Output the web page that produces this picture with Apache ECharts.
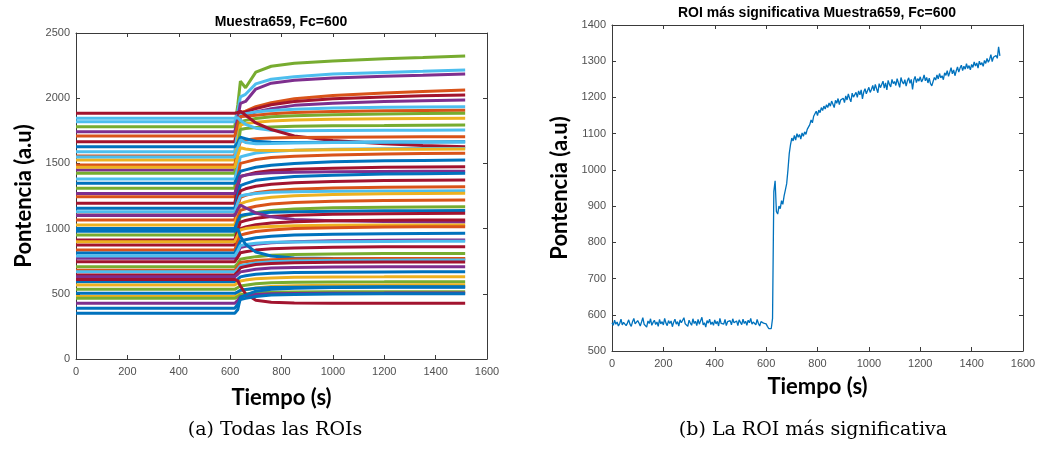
<!DOCTYPE html>
<html>
<head>
<meta charset="utf-8">
<script src="https://cdn.jsdelivr.net/npm/echarts@6/dist/echarts.min.js"></script>
<style>
  html, body { margin: 0; padding: 0; background: #ffffff; }
  #chart { width: 1039px; height: 458px; }
</style>
</head>
<body>
<div id="chart"></div>
<script>
// ---- Panel (a): every ROI, level before stimulus + samples after it ----
const roiPreEnd = 618;                       // last instant of the baseline
const roiPostTimes = [630, 640, 660, 700, 760, 850, 1000, 1200, 1350, 1515];
// each row: [baseline, value at each of roiPostTimes]
const roiLevels = [
  [1782, 1950, 2130, 2080, 2200, 2245, 2268, 2285, 2302, 2312, 2324],
  [1820, 1900, 2010, 2030, 2110, 2145, 2165, 2185, 2198, 2206, 2216],
  [1743, 1850, 1960, 1975, 2070, 2115, 2138, 2155, 2168, 2176, 2186],
  [1557, 1750, 1890, 1900, 1935, 1965, 1995, 2020, 2040, 2052, 2063],
  [1666, 1800, 1885, 1895, 1920, 1950, 1975, 1995, 2010, 2018, 2025],
  [1449, 1700, 1860, 1870, 1895, 1920, 1945, 1962, 1975, 1981, 1986],
  [1590, 1760, 1870, 1880, 1895, 1905, 1915, 1925, 1930, 1933, 1935],
  [1710, 1800, 1860, 1862, 1870, 1880, 1890, 1898, 1903, 1906, 1908],
  [1309, 1600, 1820, 1830, 1845, 1858, 1866, 1874, 1879, 1882, 1884],
  [1526, 1680, 1795, 1805, 1815, 1825, 1832, 1838, 1842, 1844, 1846],
  [1424, 1620, 1760, 1768, 1775, 1780, 1785, 1789, 1791, 1793, 1794],
  [1846, 1850, 1830, 1800, 1770, 1755, 1750, 1752, 1754, 1755, 1756],
  [1884, 1890, 1900, 1870, 1810, 1760, 1710, 1675, 1650, 1638, 1628],
  [1488, 1600, 1670, 1680, 1690, 1695, 1698, 1701, 1703, 1704, 1705],
  [1628, 1660, 1700, 1690, 1670, 1662, 1660, 1662, 1664, 1665, 1666],
  [1550, 1620, 1680, 1660, 1650, 1652, 1656, 1660, 1663, 1664, 1665],
  [1380, 1470, 1550, 1560, 1580, 1592, 1600, 1608, 1612, 1614, 1615],
  [1470, 1560, 1620, 1610, 1600, 1598, 1600, 1605, 1608, 1609, 1610],
  [1245, 1400, 1500, 1510, 1530, 1545, 1555, 1565, 1572, 1575, 1577],
  [1347, 1400, 1440, 1450, 1470, 1485, 1500, 1512, 1520, 1523, 1526],
  [1194, 1320, 1400, 1410, 1430, 1445, 1455, 1463, 1470, 1473, 1475],
  [1270, 1340, 1400, 1410, 1420, 1428, 1432, 1436, 1438, 1439, 1440],
  [1156, 1260, 1330, 1345, 1370, 1385, 1400, 1410, 1418, 1421, 1424],
  [1104, 1220, 1290, 1305, 1325, 1340, 1352, 1362, 1368, 1371, 1373],
  [1066, 1170, 1240, 1255, 1275, 1290, 1302, 1311, 1317, 1319, 1321],
  [1130, 1200, 1250, 1260, 1270, 1278, 1283, 1286, 1288, 1289, 1290],
  [1028, 1120, 1190, 1205, 1225, 1240, 1252, 1261, 1267, 1269, 1271],
  [989, 1080, 1140, 1152, 1172, 1188, 1200, 1209, 1215, 1217, 1219],
  [951, 1030, 1090, 1102, 1122, 1138, 1150, 1159, 1164, 1166, 1168],
  [1000, 1060, 1100, 1108, 1118, 1126, 1130, 1134, 1136, 1137, 1138],
  [913, 990, 1050, 1062, 1080, 1093, 1103, 1110, 1114, 1116, 1117],
  [1100, 1150, 1180, 1160, 1120, 1090, 1070, 1060, 1055, 1052, 1050],
  [874, 940, 1000, 1012, 1030, 1043, 1053, 1060, 1064, 1065, 1066],
  [900, 950, 990, 1000, 1010, 1017, 1022, 1025, 1027, 1028, 1028],
  [836, 900, 950, 960, 978, 990, 1000, 1007, 1012, 1014, 1015],
  [813, 860, 905, 914, 930, 942, 950, 957, 961, 963, 964],
  [772, 815, 855, 864, 880, 892, 900, 906, 910, 912, 913],
  [790, 830, 870, 878, 888, 895, 898, 900, 902, 903, 903],
  [746, 780, 815, 822, 835, 845, 852, 857, 860, 861, 861],
  [708, 735, 765, 772, 785, 795, 802, 806, 809, 810, 810],
  [980, 1000, 940, 880, 820, 790, 775, 770, 768, 767, 767],
  [680, 710, 740, 746, 756, 762, 766, 768, 770, 770, 771],
  [669, 690, 715, 722, 736, 746, 752, 756, 758, 759, 759],
  [645, 670, 700, 710, 725, 733, 738, 741, 743, 744, 744],
  [631, 650, 668, 675, 688, 697, 702, 705, 707, 708, 708],
  [593, 612, 630, 638, 650, 658, 663, 666, 668, 669, 669],
  [567, 585, 598, 605, 615, 622, 626, 629, 630, 631, 631],
  [534, 548, 560, 566, 577, 584, 588, 591, 592, 593, 593],
  [480, 500, 520, 530, 545, 556, 562, 566, 568, 569, 570],
  [504, 515, 527, 533, 542, 548, 551, 553, 554, 554, 554],
  [465, 478, 492, 498, 506, 511, 513, 515, 516, 516, 516],
  [610, 600, 560, 500, 450, 435, 430, 428, 428, 427, 427],
  [427, 450, 478, 485, 495, 500, 503, 505, 506, 507, 507],
  [389, 420, 455, 465, 480, 490, 495, 498, 500, 501, 501],
  [350, 380, 470, 490, 520, 535, 543, 548, 550, 551, 551]
];
// palette slot used by each ROI row (MATLAB default line order)
const roiColour = [4, 5, 3, 1, 6, 3, 5, 1, 4, 2, 4, 5, 6, 1, 0, 5, 5, 2, 1, 0, 6, 3, 0, 6, 1, 5, 2,
                   1, 4, 0, 6, 3, 6, 2, 1, 0, 3, 5, 6, 4, 0, 1, 5, 6, 3, 0, 2, 4, 2, 0, 4, 6, 3, 0, 0];

// ---- Panel (b): the most significant ROI, one sample every 5 s from t = 0 ----
const sigStart = 0;
const sigStep = 5;
const sigValues = [
  578,571,585,574,580,569,576,588,572,579,583,570,577,586,574,568,581,590,575,572,
  584,577,569,580,592,574,578,566,583,576,589,571,579,585,573,580,568,587,575,581,
  572,590,577,570,584,576,583,567,579,588,574,581,569,586,578,573,592,575,580,568,
  585,577,571,589,576,582,570,587,574,579,593,572,578,566,584,577,588,573,580,571,
  586,575,582,569,590,576,579,574,587,570,581,577,584,572,589,578,575,583,570,586,
  579,573,588,576,582,571,585,578,590,574,580,583,572,587,576,569,581,584,577,579,
  575,568,562,566,
  562,590,940,970,885,878,900,893,915,905,928,945,962,1000,1045,1070,1088,1080,1095,1082,
  1100,1090,1098,1085,1102,1093,1105,1098,1112,1108,1125,1138,1130,1148,1155,1162,1150,1165,1158,1172,
  1164,1176,1168,1180,1172,1185,
  1176,1190,1181,1172,1192,1184,1197,1180,1193,1188,
  1198,1186,1204,1193,1210,1197,1188,1212,1201,1206,
  1214,1200,1218,1207,1221,1196,1215,1224,1210,1219,
  1228,1214,1222,1233,1218,1236,1224,1213,1238,1227,
  1232,1245,1226,1240,1221,1247,1236,1229,1250,1238,
  1244,1233,1252,1240,1228,1255,1243,1237,1249,1231,
  1246,1254,1239,1250,1222,1248,1258,1241,1252,1245,
  1257,1243,1250,1262,1246,1255,1240,1253,1238,1232,
  1244,1255,1248,1262,1251,1266,1254,1260,1249,1268,
  1261,1274,1258,1270,1282,1265,1276,1260,1273,1284,
  1270,1281,1289,1274,1286,1278,1293,1280,1288,1276,
  1291,1283,1298,1287,1295,1281,1300,1290,1296,1286,
  1302,1294,1308,1297,1305,1318,1299,1311,1306,1316,
  1308,1340,1315
];

const palette = ['#0072BD', '#D95319', '#EDB120', '#7E2F8E', '#77AC30', '#4DBEEE', '#A2142F'];
const axisInk = '#3a3a3a';
const labelInk = '#505050';
const nameFont = { fontFamily: 'Lato', fontWeight: 'bold', fontSize: 22, color: '#000' };
const tickFont = { color: labelInk, fontSize: 11, fontFamily: 'Liberation Sans', formatter: v => String(v) };

function boxX(gridIndex, gap) {
  const common = {
    type: 'value', gridIndex, min: 0, max: 1600, interval: 200,
    splitLine: { show: false },
    axisLine: { show: true, onZero: false, lineStyle: { color: axisInk, width: 1 } },
    axisTick: { show: true, inside: true, length: 4, lineStyle: { color: axisInk } }
  };
  return [
    Object.assign({}, common, {
      position: 'bottom',
      axisLabel: Object.assign({ margin: 7 }, tickFont),
      name: 'Tiempo (s)', nameLocation: 'middle', nameGap: gap, nameTextStyle: nameFont
    }),
    Object.assign({}, common, { position: 'top', axisLabel: { show: false } })
  ];
}
function boxY(gridIndex, min, max, interval, gap) {
  const common = {
    type: 'value', gridIndex, min, max, interval,
    splitLine: { show: false },
    axisLine: { show: true, onZero: false, lineStyle: { color: axisInk, width: 1 } },
    axisTick: { show: true, inside: true, length: 4, lineStyle: { color: axisInk } }
  };
  return [
    Object.assign({}, common, {
      position: 'left',
      axisLabel: Object.assign({ margin: 6 }, tickFont),
      name: 'Pontencia (a.u)', nameLocation: 'middle', nameGap: gap, nameRotate: 90, nameTextStyle: nameFont
    }),
    Object.assign({}, common, { position: 'right', axisLabel: { show: false } })
  ];
}

const series = roiLevels.map((row, i) => {
  const pts = [[0, row[0]], [roiPreEnd, row[0]]];
  roiPostTimes.forEach((t, k) => pts.push([t, row[k + 1]]));
  return {
    type: 'line', xAxisIndex: 0, yAxisIndex: 0, data: pts, showSymbol: false,
    lineStyle: { width: 3, color: palette[roiColour[i]] }, silent: true
  };
});
series.push({
  type: 'line', xAxisIndex: 2, yAxisIndex: 2, showSymbol: false, silent: true,
  data: sigValues.map((v, i) => [sigStart + i * sigStep, v]),
  lineStyle: { width: 1.3, color: '#0072BD' }
});

const chart = echarts.init(document.getElementById('chart'), null, { renderer: 'canvas' });
chart.setOption({
  animation: false,
  grid: [
    { left: 76, top: 33, width: 411, height: 326 },
    { left: 612, top: 25, width: 411, height: 326 }
  ],
  xAxis: [...boxX(0, 28), ...boxX(1, 25)],
  yAxis: [...boxY(0, 0, 2500, 500, 41), ...boxY(1, 500, 1400, 100, 41)],
  series,
  graphic: [
    { type: 'text', x: 281, y: 22, style: { text: 'Muestra659, Fc=600', align: 'center', verticalAlign: 'middle',
      font: 'bold 14px "Liberation Sans"', fill: '#000' } },
    { type: 'text', x: 817, y: 13, style: { text: 'ROI más significativa Muestra659, Fc=600', align: 'center', verticalAlign: 'middle',
      font: 'bold 14px "Liberation Sans"', fill: '#000' } },
    { type: 'text', x: 275, y: 430, style: { text: '(a) Todas las ROIs', align: 'center', verticalAlign: 'middle',
      font: '19px "DejaVu Serif"', fill: '#000' } },
    { type: 'text', x: 813, y: 430, style: { text: '(b) La ROI más significativa', align: 'center', verticalAlign: 'middle',
      font: '19px "DejaVu Serif"', fill: '#000' } }
  ]
});
</script>
</body>
</html>
